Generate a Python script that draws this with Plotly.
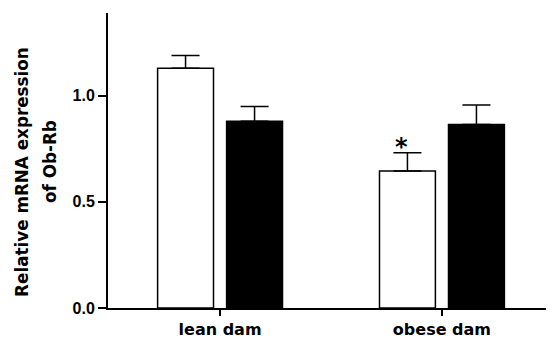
import plotly.graph_objects as go

categories = ["lean dam", "obese dam"]
white_values = [1.13, 0.646]
white_errors = [0.06, 0.085]
black_values = [0.88, 0.865]
black_errors = [0.07, 0.092]
tick_vals = [0.0, 0.5, 1.0]
tick_text = ["0.0", "0.5", "1.0"]

fig = go.Figure()
fig.add_trace(go.Bar(
    x=categories, y=white_values,
    marker=dict(color="white", line=dict(color="black", width=1.5)),
    error_y=dict(type="data", array=white_errors, arrayminus=[0, 0],
                 color="black", thickness=1.5, width=14),
    showlegend=False,
))
fig.add_trace(go.Bar(
    x=categories, y=black_values,
    marker=dict(color="black", line=dict(color="black", width=1.5)),
    error_y=dict(type="data", array=black_errors, arrayminus=[0, 0],
                 color="black", thickness=1.5, width=14),
    showlegend=False,
))

fig.add_annotation(x=categories[1], y=white_values[1] + white_errors[1],
                   text="<b>*</b>", showarrow=False, xshift=-40, yshift=6,
                   xanchor="center",
                   font=dict(family="DejaVu Sans", size=24, color="black"))

fig.add_annotation(xref="paper", yref="paper", x=-0.193, y=0.461,
                   xanchor="center", yanchor="middle",
                   text="<b>Relative mRNA expression</b>", textangle=-90,
                   showarrow=False,
                   font=dict(family="DejaVu Sans", size=16.8, color="black"))
fig.add_annotation(xref="paper", yref="paper", x=-0.130, y=0.495,
                   xanchor="center", yanchor="middle",
                   text="<b>of Ob-Rb</b>", textangle=-90,
                   showarrow=False,
                   font=dict(family="DejaVu Sans", size=16.8, color="black"))

fig.update_layout(
    width=546, height=337,
    margin=dict(l=100, r=0, t=5, b=37),
    paper_bgcolor="white", plot_bgcolor="white",
    barmode="group", bargap=0.378, bargroupgap=0.19,
    xaxis=dict(range=[-0.505, 1.505], showline=True, linecolor="black",
               linewidth=2, ticks="outside", ticklen=6, tickwidth=2,
               tickcolor="black", showgrid=False, zeroline=False,
               tickfont=dict(family="DejaVu Sans", size=16, color="black"),
               tickvals=categories,
               ticktext=["<b>" + c + "</b>" for c in categories]),
    yaxis=dict(range=[0, 1.39], showline=True, linecolor="black",
               linewidth=2, ticks="outside", ticklen=8, tickwidth=2,
               tickcolor="black", showgrid=False, zeroline=False,
               tickvals=tick_vals,
               ticktext=["<b>" + t + "</b>" for t in tick_text],
               tickfont=dict(family="Liberation Sans", size=16, color="black")),
)

fig.write_html("out.html")
